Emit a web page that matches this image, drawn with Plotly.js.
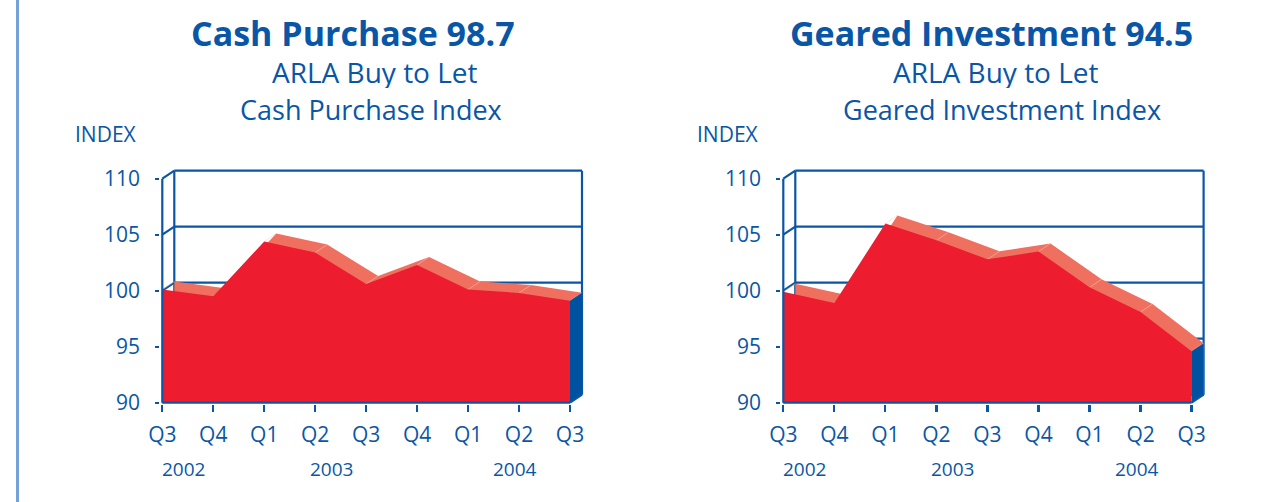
<!DOCTYPE html>
<html>
<head>
<meta charset="utf-8">
<script src="https://cdn.plot.ly/plotly-3.0.1.min.js"></script>
<style>
html,body{margin:0;padding:0;background:#fff;}
#chart{width:1270px;height:502px;}
</style>
</head>
<body>
<div id="chart"></div>
<script>
// ---- data ----
const quarters = ['Q3','Q4','Q1','Q2','Q3','Q4','Q1','Q2','Q3'];
const years = ['2002','2003','2004'];
const cashPurchase = [100.1, 99.5, 104.4, 103.4, 100.6, 102.3, 100.1, 99.8, 99.1];
const gearedInvestment = [99.9, 98.9, 106.0, 104.5, 102.8, 103.5, 100.3, 98.1, 94.6];
const yTicks = [90, 95, 100, 105, 110];
const titles = ['Cash Purchase 98.7', 'Geared Investment 94.5'];
const subtitleLine1 = ['ARLA Buy to Let', 'ARLA Buy to Let'];
const subtitleLine2 = ['Cash Purchase Index', 'Geared Investment Index'];
const axisTitle = 'INDEX';

// ---- style ----
const W = 1270, H = 502;
const BLUE = '#0a56a6';
const RED = '#ed1c2e';
const SALMON = '#f07060';
const SIDE = '#0052a0';
const FONT = '"Open Sans", "DejaVu Sans", sans-serif';

const yMin = yTicks[0], yMax = yTicks[yTicks.length - 1];
const nQ = quarters.length - 1;
const pxPerY = 11.2;
const y0px = 402.7;
const depthX = 12, depthY = 8; // pseudo-3D offset in pixels

const panels = [
  {values: cashPurchase, x0px: 162.3, x1px: 570.0, xa: 'x', ya: 'y', xk: 'xaxis', yk: 'yaxis'},
  {values: gearedInvestment, x0px: 783.3, x1px: 1191.6, xa: 'x2', ya: 'y2', xk: 'xaxis2', yk: 'yaxis2'}
];

const traces = [];
const layout = {
  width: W, height: H,
  margin: {l: 0, r: 0, t: 0, b: 0},
  paper_bgcolor: '#fff', plot_bgcolor: 'rgba(0,0,0,0)',
  showlegend: false, hovermode: false,
  annotations: [],
  shapes: [{type: 'line', xref: 'paper', yref: 'paper', x0: 17.5 / W, x1: 17.5 / W, y0: 0, y1: 1,
            line: {color: '#74a2d8', width: 3}}]
};

panels.forEach((p, k) => {
  const pxPerX = (p.x1px - p.x0px) / nQ;
  const dx = depthX / pxPerX, dy = depthY / pxPerY;
  const xr = [-0.04, nQ + dx + 0.09];
  const yr = [yMin - 0.12, yMax + dy + 0.6];
  const left = p.x0px + xr[0] * pxPerX, right = p.x0px + xr[1] * pxPerX;
  const bottom = y0px - (yr[0] - yMin) * pxPerY, top = y0px - (yr[1] - yMin) * pxPerY;
  const v = p.values;
  const idx = v.map((_, i) => i);
  const line = {color: BLUE, width: 2.2};
  const base = {xaxis: p.xa, yaxis: p.ya, mode: 'lines', hoverinfo: 'skip', showlegend: false};

  // back wall: horizontal gridlines, connectors from front ticks
  yTicks.forEach(t => {
    traces.push(Object.assign({}, base, {x: [dx, nQ + dx], y: [t + dy, t + dy], line}));
    traces.push(Object.assign({}, base, {x: [0, dx], y: [t, t + dy], line}));
  });
  traces.push(Object.assign({}, base, {x: [dx, dx], y: [yMin + dy, yMax + dy], line}));
  traces.push(Object.assign({}, base, {x: [nQ + dx, nQ + dx], y: [yMin + dy, yMax + dy], line}));

  // back (top ribbon) surface
  traces.push(Object.assign({}, base, {
    x: idx.map(i => i + dx).concat([nQ + dx, dx]),
    y: v.map(y => y + dy).concat([yMin + dy, yMin + dy]),
    fill: 'toself', fillcolor: SALMON, line: {width: 0, color: SALMON}
  }));
  // fold lines on ribbon
  idx.forEach(i => {
    traces.push(Object.assign({}, base, {x: [i, i + dx], y: [v[i], v[i] + dy],
      line: {color: 'rgba(255,200,190,0.5)', width: 1}}));
  });
  // front face
  traces.push(Object.assign({}, base, {
    x: idx.concat([nQ, 0]),
    y: v.concat([yMin, yMin]),
    fill: 'toself', fillcolor: RED, line: {width: 0, color: RED}
  }));
  // right side face
  traces.push(Object.assign({}, base, {
    x: [nQ, nQ + dx, nQ + dx, nQ, nQ],
    y: [v[nQ], v[nQ] + dy, yMin + dy, yMin, v[nQ]],
    fill: 'toself', fillcolor: SIDE, line: {width: 0, color: SIDE}
  }));
  // front axes
  traces.push(Object.assign({}, base, {x: [0, 0], y: [yMin, yMax], line}));
  traces.push(Object.assign({}, base, {x: [0, nQ], y: [yMin, yMin], line}));
  traces.push(Object.assign({}, base, {x: [nQ, nQ + dx], y: [yMin, yMin + dy], line}));

  layout[p.xk] = {
    domain: [left / W, right / W], range: xr, anchor: p.ya,
    tickmode: 'array', tickvals: idx, ticktext: quarters,
    ticks: 'outside', ticklen: 7, tickwidth: 2.2, tickcolor: BLUE,
    showgrid: false, zeroline: false, showline: false, fixedrange: true,
    tickfont: {family: FONT, size: 21, color: BLUE}, ticklabelstandoff: 5
  };
  layout[p.yk] = {
    domain: [(H - bottom) / H, (H - top) / H], range: yr, anchor: p.xa,
    tickmode: 'array', tickvals: yTicks, ticktext: yTicks.map(String),
    ticks: 'outside', ticklen: 4, tickwidth: 2.2, tickcolor: BLUE,
    showgrid: false, zeroline: false, showline: false, fixedrange: true,
    tickfont: {family: FONT, size: 21, color: BLUE}, ticklabelstandoff: 11
  };

  // year labels
  const yearPos = [0.42, 3.32, 6.93];
  years.forEach((yr_, j) => {
    layout.annotations.push({xref: p.xa, yref: 'paper', x: yearPos[j], y: 1 - 469 / H,
      text: yr_, showarrow: false, xanchor: 'center', yanchor: 'middle',
      font: {family: FONT, size: 19, color: BLUE}});
  });
});

// titles
const titleX = [353, 991], sub1X = [375, 996], sub2X = [370.5, 1002], indexX = [106, 727.6];
titles.forEach((t, k) => {
  layout.annotations.push({xref: 'paper', yref: 'paper', x: titleX[k] / W, y: 1 - 33.5 / H,
    text: '<b>' + t + '</b>', showarrow: false, xanchor: 'center', yanchor: 'middle',
    height: 38, valign: 'middle',
    font: {family: FONT, size: 34, color: BLUE}});
  layout.annotations.push({xref: 'paper', yref: 'paper', x: sub1X[k] / W, y: 1 - 72.5 / H,
    text: subtitleLine1[k], showarrow: false, xanchor: 'center', yanchor: 'middle',
    height: 32, valign: 'middle',
    font: {family: FONT, size: 28, color: BLUE}});
  layout.annotations.push({xref: 'paper', yref: 'paper', x: sub2X[k] / W, y: 1 - 108.5 / H,
    text: subtitleLine2[k], showarrow: false, xanchor: 'center', yanchor: 'middle',
    height: 32, valign: 'middle',
    font: {family: FONT, size: 27, color: BLUE}});
  layout.annotations.push({xref: 'paper', yref: 'paper', x: indexX[k] / W, y: 1 - 134 / H,
    text: axisTitle, showarrow: false, xanchor: 'center', yanchor: 'middle',
    font: {family: FONT, size: 21, color: BLUE}});
});

Plotly.newPlot('chart', traces, layout, {staticPlot: true, displayModeBar: false});
</script>
</body>
</html>
